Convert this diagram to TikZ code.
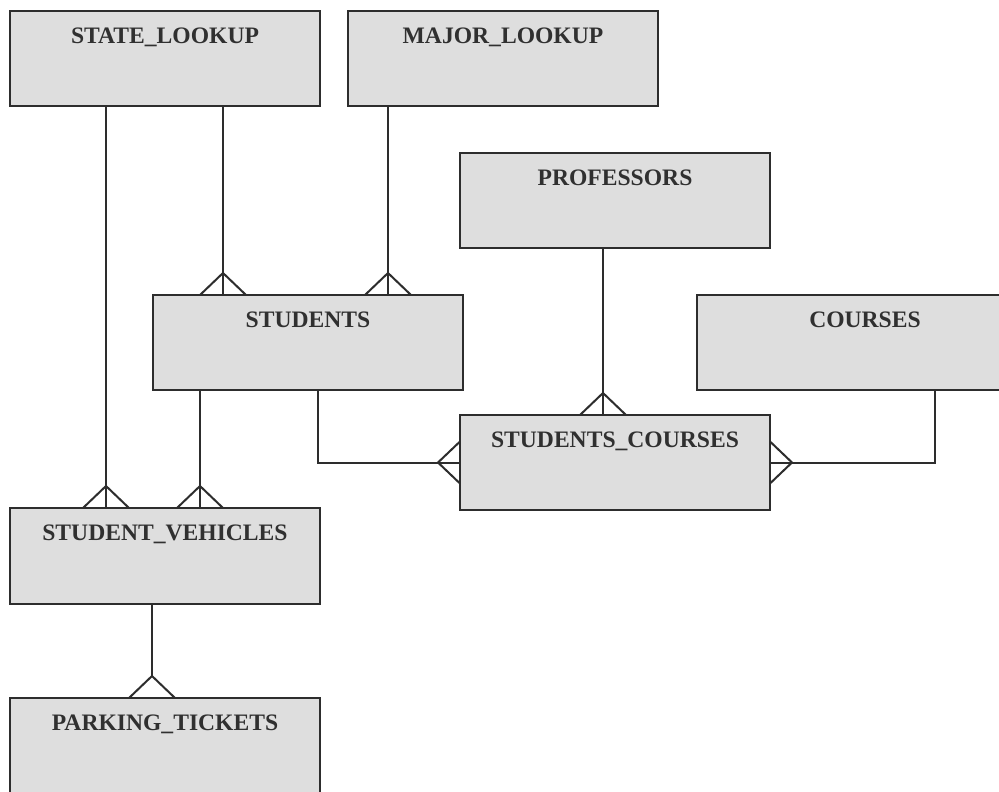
\documentclass[tikz,border=0pt]{standalone}
\usepackage{fontspec}
\setmainfont{Liberation Serif}
\definecolor{boxfill}{RGB}{222,222,222}
\definecolor{edge}{RGB}{45,45,45}
\definecolor{ink}{RGB}{48,48,48}
\tikzset{
  tbl/.style={draw=edge, fill=boxfill, line width=2.6pt, anchor=north west,
    minimum width=310pt, minimum height=95pt, inner sep=0pt, outer sep=0pt},
  lbl/.style={anchor=base, yshift=-32.5pt, inner sep=0pt, text=ink,
    font=\fontsize{23.6}{26}\selectfont\bfseries},
  rel/.style={draw=edge, line width=2pt, line join=miter},
}
\begin{document}
\begin{tikzpicture}[x=1pt,y=1pt]
\clip (0,0) rectangle (999,-792);
\fill[white] (0,0) rectangle (999,-792);

% tables
\node[tbl, label={[lbl]north:STATE\_LOOKUP}] (sl) at (10,-11) {};
\node[tbl, label={[lbl]north:MAJOR\_LOOKUP}] (ml) at (348,-11) {};
\node[tbl, label={[lbl]north:PROFESSORS}] (pr) at (460,-153) {};
\node[tbl, label={[lbl]north:STUDENTS}] (st) at (153,-295) {};
\node[tbl, minimum width=336pt, label={[lbl]north:COURSES}] (co) at (697,-295) {};
\node[tbl, label={[lbl]north:STUDENTS\_COURSES}] (sc) at (460,-415) {};
\node[tbl, minimum height=96pt, label={[lbl]north:STUDENT\_VEHICLES}] (sv) at (10,-508) {};
\node[tbl, label={[lbl]north:PARKING\_TICKETS}] (pt) at (10,-698) {};

% STATE_LOOKUP -> STUDENT_VEHICLES
\draw[rel] ([xshift=96pt]sl.south west) -- ([xshift=96pt]sv.north west);
\draw[rel] ([xshift=73pt]sv.north west) -- ++(23,22) -- ++(23,-22);
% STATE_LOOKUP -> STUDENTS
\draw[rel] ([xshift=213pt]sl.south west) -- ([xshift=70pt]st.north west);
\draw[rel] ([xshift=47pt]st.north west) -- ++(23,22) -- ++(23,-22);
% MAJOR_LOOKUP -> STUDENTS
\draw[rel] ([xshift=40pt]ml.south west) -- ([xshift=235pt]st.north west);
\draw[rel] ([xshift=212pt]st.north west) -- ++(23,22) -- ++(23,-22);
% PROFESSORS -> STUDENTS_COURSES
\draw[rel] ([xshift=143pt]pr.south west) -- ([xshift=143pt]sc.north west);
\draw[rel] ([xshift=120pt]sc.north west) -- ++(23,22) -- ++(23,-22);
% STUDENTS -> STUDENT_VEHICLES
\draw[rel] ([xshift=47pt]st.south west) -- ([xshift=190pt]sv.north west);
\draw[rel] ([xshift=167pt]sv.north west) -- ++(23,22) -- ++(23,-22);
% STUDENTS -> STUDENTS_COURSES
\draw[rel] ([xshift=165pt]st.south west) |- (sc.west);
\draw[rel] ([yshift=21pt]sc.west) -- ++(-22,-21) -- ++(22,-21);
% COURSES -> STUDENTS_COURSES
\draw[rel] ([xshift=238pt]co.south west) |- (sc.east);
\draw[rel] ([yshift=21pt]sc.east) -- ++(22,-21) -- ++(-22,-21);
% STUDENT_VEHICLES -> PARKING_TICKETS
\coordinate (ptfoot) at ([xshift=142pt,yshift=22pt]pt.north west);
\draw[rel] ([xshift=142pt]sv.south west) -- (ptfoot);
\draw[rel] ([xshift=119pt]pt.north west) -- (ptfoot) -- ([xshift=165pt]pt.north west);
\end{tikzpicture}
\end{document}
